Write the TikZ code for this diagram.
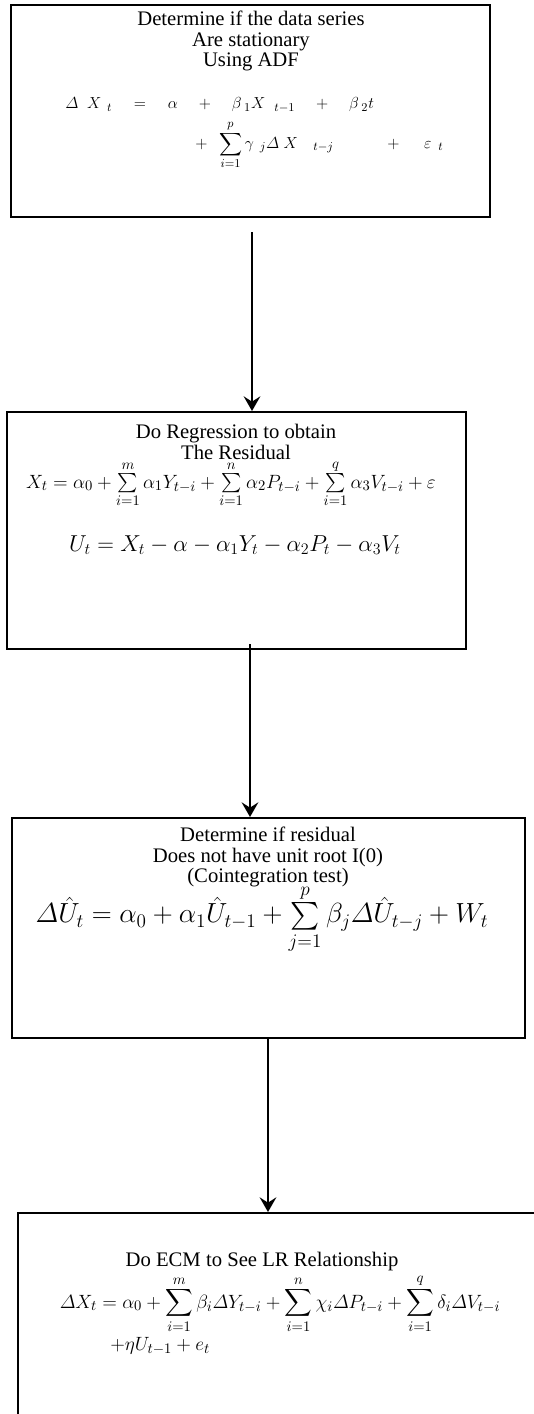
\documentclass[tikz,border=0pt]{standalone}
\usepackage{amsmath}
\usepackage{fontspec}
\setmainfont{Liberation Serif}
\usepackage{tikz}
\usetikzlibrary{arrows.meta,positioning,calc}
\tikzset{
  stagebox/.style={draw=black,line width=1.5pt,inner sep=0pt},
  stagetext/.style={align=center,inner sep=0pt,font=\fontsize{15.5}{15.4}\selectfont},
  eqn/.style={inner sep=0pt,font=\fontsize{#1}{#1}\selectfont},
  eqn/.default=14,
  flowarr/.style={-{Stealth[length=11pt,width=12.5pt,inset=4pt]},line width=1.5pt},
}

\begin{document}
\begin{tikzpicture}[x=0.75pt,y=-0.75pt]
  \useasboundingbox (0,0) rectangle (534,1414);
  \node[stagebox,minimum width=359.25pt,minimum height=159pt] (adf) at (250.5,111) {};
  \node[stagebox,minimum width=344.25pt,minimum height=177.75pt] (resid) at (236.5,530.5) {};
  \node[stagebox,minimum width=384.75pt,minimum height=165pt] (coint) at (268,928) {};
  \node[stagebox,minimum width=406.5pt,minimum height=170.25pt] (ecm) at (289,1326.5) {};

  \node[stagetext] (adfhead) at (251,41) {Determine if the data series\\Are stationary\\Using ADF};
  \node[eqn=13,anchor=west] (adfeqa) at (65,105)
    {$\varDelta\;\;X_{\;\;t}\quad=\quad\alpha\quad+\quad\beta_{\;1}X_{\;\;\;t-1}\quad+\quad\beta_{\;2}t$};
  \node[eqn=12.5,anchor=west] (adfeqb) at (195,145)
    {$\displaystyle+\;\;\sum_{i=1}^{p}\gamma_{\;\;j}\varDelta\;X_{\quad t-j}\qquad\quad+\quad\;\varepsilon_{\;\;t}$};

  \node[stagetext] (residhead) at (236,442) {Do Regression to obtain\\The Residual};
  \node[eqn=15.5] (resideqa) at (231,484)
    {$X_t=\alpha_0+\sum\limits_{i=1}^{m}\alpha_1Y_{t-i}+\sum\limits_{i=1}^{n}\alpha_2P_{t-i}+\sum\limits_{i=1}^{q}\alpha_3V_{t-i}+\varepsilon$};
  \node[eqn=18.5] (resideqb) at (235,545)
    {$U_t=X_t-\alpha-\alpha_1Y_t-\alpha_2P_t-\alpha_3V_t$};

  \node[stagetext] (cointhead) at (268,857) {Determine if residual\\Does not have unit root I(0)\\(Cointegration test)};
  \node[eqn=20] (cointeq) at (262,919)
    {$\varDelta\hat{U}_t=\alpha_0+\alpha_1\hat{U}_{t-1}+\sum\limits_{j=1}^{p}\beta_j\varDelta\hat{U}_{t-j}+W_t$};

  \node[stagetext] (ecmhead) at (262,1262) {Do ECM to See LR Relationship};
  \node[eqn=15] (ecmeqa) at (280,1304)
    {$\displaystyle\varDelta X_t=\alpha_0+\sum_{i=1}^{m}\beta_i\varDelta Y_{t-i}+\sum_{i=1}^{n}\chi_i\varDelta P_{t-i}+\sum_{i=1}^{q}\delta_i\varDelta V_{t-i}$};
  \node[eqn=15.5,anchor=west] (ecmeqb) at (110,1346) {$+\eta U_{t-1}+e_t$};

  \coordinate (adfout) at (252,232);
  \coordinate (residout) at (250,644);
  \draw[flowarr] (adfout) -- (adfout |- resid.north);
  \draw[flowarr] (residout) -- (residout |- coint.north);
  \draw[flowarr] (coint.south) -- (coint.south |- ecm.north);
\end{tikzpicture}
\end{document}
